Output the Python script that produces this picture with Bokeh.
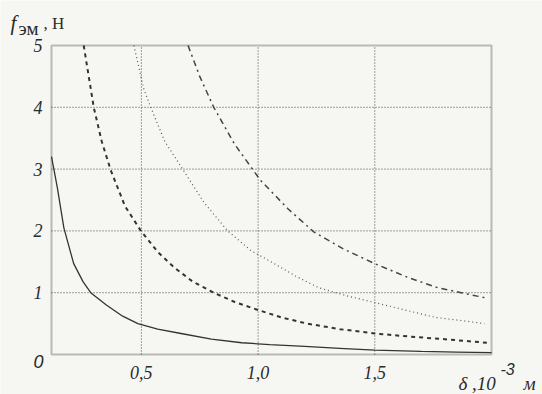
from bokeh.plotting import figure
from bokeh.models import Range1d, Label, LabelSet, BoxAnnotation, ColumnDataSource
from bokeh.embed import file_html
from bokeh.resources import INLINE

# ---- data (delta in 10^-3 m, force in N) ----
x_solid = [0.115, 0.14, 0.168, 0.21, 0.25, 0.283, 0.35, 0.42, 0.485, 0.57, 0.67, 0.8, 0.93, 1.05, 1.2, 1.35, 1.5, 1.7, 1.85, 2.0]
f_solid = [3.2, 2.7, 2.05, 1.47, 1.18, 1.0, 0.8, 0.62, 0.5, 0.41, 0.34, 0.25, 0.19, 0.16, 0.13, 0.1, 0.07, 0.05, 0.04, 0.03]

x_dash = [0.253, 0.296, 0.33, 0.369, 0.43, 0.498, 0.57, 0.64, 0.72, 0.81, 0.9, 1.0, 1.1, 1.21, 1.35, 1.5, 1.65, 1.79, 1.98]
f_dash = [5.0, 4.0, 3.45, 2.98, 2.4, 2.0, 1.66, 1.41, 1.18, 1.0, 0.85, 0.72, 0.6, 0.5, 0.41, 0.34, 0.29, 0.25, 0.19]

x_dot = [0.468, 0.51, 0.54, 0.6, 0.68, 0.77, 0.87, 0.97, 1.07, 1.16, 1.26, 1.38, 1.5, 1.63, 1.76, 1.87, 1.97]
f_dot = [5.0, 4.3, 4.0, 3.45, 2.98, 2.45, 2.0, 1.68, 1.47, 1.27, 1.08, 0.95, 0.84, 0.72, 0.6, 0.55, 0.5]

x_dashdot = [0.70, 0.75, 0.81, 0.9, 1.01, 1.13, 1.24, 1.37, 1.5, 1.64, 1.77, 1.87, 1.97]
f_dashdot = [5.0, 4.5, 4.0, 3.4, 2.82, 2.35, 1.98, 1.7, 1.47, 1.25, 1.08, 1.0, 0.92]

x_ticks = [0.5, 1.0, 1.5]
x_tick_labels = ["0,5", "1,0", "1,5"]
y_ticks = [1, 2, 3, 4, 5]
y_tick_labels = ["1", "2", "3", "4", "5"]
y_grid = [1, 2, 3, 4]

X0, X1 = 0.115, 2.0      # plotted delta range
Y0, Y1 = 0.0, 5.0        # plotted force range

# ---- layout (pixels) ----
W, H = 542, 394
PAD_L, PAD_R, PAD_T, PAD_B = 51, 51, 45, 40
BG = "#f6f7f3"
INK = "#2a2a2a"

sx = (W - PAD_L - PAD_R) / (X1 - X0)
sy = (H - PAD_T - PAD_B) / (Y1 - Y0)

p = figure(width=W, height=H, output_backend="svg", toolbar_location=None,
           x_axis_location=None, y_axis_location=None,
           x_range=Range1d(X0 - PAD_L / sx, X1 + PAD_R / sx),
           y_range=Range1d(Y0 - PAD_B / sy, Y1 + PAD_T / sy),
           min_border=0)
p.min_border_left = p.min_border_right = p.min_border_top = p.min_border_bottom = 0
p.background_fill_color = BG
p.border_fill_color = BG
p.outline_line_color = None
p.xgrid.visible = False
p.ygrid.visible = False

# dotted grid, limited to the plotting box
p.segment(x0=x_ticks, y0=[Y0] * len(x_ticks), x1=x_ticks, y1=[Y1] * len(x_ticks),
          line_color="#444444", line_width=1, line_dash="1 2")
p.segment(x0=[X0] * len(y_grid), y0=y_grid, x1=[X1] * len(y_grid), y1=y_grid,
          line_color="#444444", line_width=1, line_dash="1 2")

# curves
p.line(x_solid, f_solid, line_color="#333333", line_width=1.3)
p.line(x_dash, f_dash, line_color="#333333", line_width=2, line_dash="4 4")
p.line(x_dot, f_dot, line_color="#555555", line_width=1.2, line_dash="1 3")
p.line(x_dashdot, f_dashdot, line_color="#444444", line_width=1.5, line_dash="6 4 2 4")

# box
p.add_layout(BoxAnnotation(left=X0, right=X1, bottom=Y0, top=Y1, fill_alpha=0,
                           line_color=INK, line_width=2))

# tick labels (positioned by the data scales along their axis)
tick_font = dict(text_font="Liberation Sans", text_font_style="italic",
                 text_font_size="18px", text_color=INK)
xs = ColumnDataSource(dict(x=x_ticks, t=x_tick_labels, y=[22] * len(x_ticks)))
p.add_layout(LabelSet(source=xs, x="x", y="y", text="t", x_units="data", y_units="screen",
                      text_align="center", text_baseline="middle", **tick_font))
ys = ColumnDataSource(dict(y=y_ticks, t=y_tick_labels, x=[42] * len(y_ticks)))
p.add_layout(LabelSet(source=ys, x="x", y="y", text="t", x_units="screen", y_units="data",
                      text_align="right", text_baseline="middle", **tick_font))

def lab(text, x, y, font="Liberation Serif", size="17px", style="normal", align="left", base="alphabetic"):
    p.add_layout(Label(x=x, y=y, x_units="screen", y_units="screen", text=text,
                       text_font=font, text_font_size=size, text_font_style=style,
                       text_color=INK, text_align=align, text_baseline=base))

# corner zero
lab("0", 38, H - 361, font="Liberation Sans", size="18px", style="italic", align="center", base="middle")
# y caption  f_эм , Н
lab("f", 10, H - 22, size="21px", style="italic")
lab("эм", 18, H - 28, size="19px")
lab(",  Н", 43, H - 23, size="17px")
# x caption  δ ,10^-3 м
lab("δ ,10", 458, H - 383, size="19px", style="italic")
lab("-3", 500, H - 368, font="Liberation Sans", size="16px", style="italic")
lab("м", 523, H - 383, size="19px", style="italic")

open("out.html", "w").write(file_html(p, INLINE))
